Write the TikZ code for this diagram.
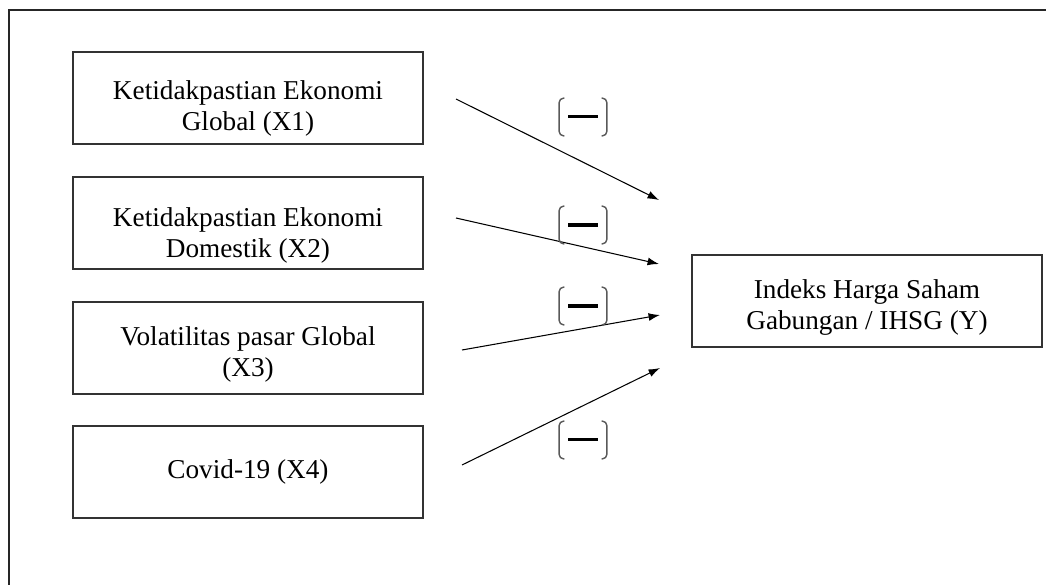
\documentclass[tikz,border=0pt]{standalone}
\usepackage{fontspec}
\setmainfont{Liberation Serif}
\usetikzlibrary{arrows.meta}

% raised first line, moves the text of a box down
\newcommand{\topgap}[1]{\rule{0pt}{#1}}

\begin{document}
\begin{tikzpicture}[x=0.02cm, y=-0.02cm,
    varbox/.style={draw=black!80, line width=0.7pt, minimum width=7cm, minimum height=1.84cm,
        align=center, inner sep=2pt, font=\fontsize{15.5}{17.6}\selectfont},
    effect/.style={-{Latex[length=6.5pt,width=4.5pt]}, line width=0.6pt},
    sign/.style={minimum width=0.94cm, minimum height=0.74cm, inner sep=0pt}]
    \useasboundingbox (0,0) rectangle (1046,585);

    % frame
    \draw[black!85, line width=0.7pt] (1046,10) -- (9,10) -- (9,585);

    % variables
    \node[varbox] (X1) at (248,98) {\topgap{23pt}Ketidakpastian Ekonomi\\Global (X1)};
    \node[varbox] (X2) at (248,223) {\topgap{25pt}Ketidakpastian Ekonomi\\Domestik (X2)};
    \node[varbox] (X3) at (248,348) {\topgap{18pt}Volatilitas pasar Global\\(X3)};
    \node[varbox] (X4) at (248,472) {Covid-19 (X4)};
    \node[varbox] (Y) at (867,301) {\topgap{18pt}Indeks Harga Saham\\Gabungan / IHSG (Y)};

    % arrow ends
    \coordinate (S1) at (456,99);
    \coordinate (S2) at (456,218);
    \coordinate (S3) at (462,350);
    \coordinate (S4) at (462,465);
    \coordinate (E1) at (659,200);
    \coordinate (E2) at (659,264);
    \coordinate (E3) at (660,315);
    \coordinate (E4) at (660,368);

    \draw[effect] (S1) -- (E1); % X1
    \draw[effect] (S2) -- (E2); % X2
    \draw[effect] (S3) -- (E3); % X3
    \draw[effect] (S4) -- (E4); % X4

    % signs
    \node[sign] (m1) at (583,117) {\rule[0.3pt]{0.6cm}{0.07cm}};
    \node[sign] (m2) at (583,225) {\rule[0.3pt]{0.6cm}{0.08cm}};
    \node[sign] (m3) at (583,306) {\rule[0.3pt]{0.6cm}{0.08cm}};
    \node[sign] (m4) at (583,440) {\rule[0.3pt]{0.6cm}{0.07cm}};
    \foreach \m in {m1,m2,m3,m4} {
        \draw[black!65, line width=0.8pt, rounded corners=2.5pt]
            ([xshift=3pt]\m.north west) -- (\m.north west) -- (\m.south west) -- ([xshift=3pt]\m.south west);
        \draw[black!65, line width=0.8pt, rounded corners=2.5pt]
            ([xshift=-3pt]\m.north east) -- (\m.north east) -- (\m.south east) -- ([xshift=-3pt]\m.south east);
    }
\end{tikzpicture}
\end{document}
